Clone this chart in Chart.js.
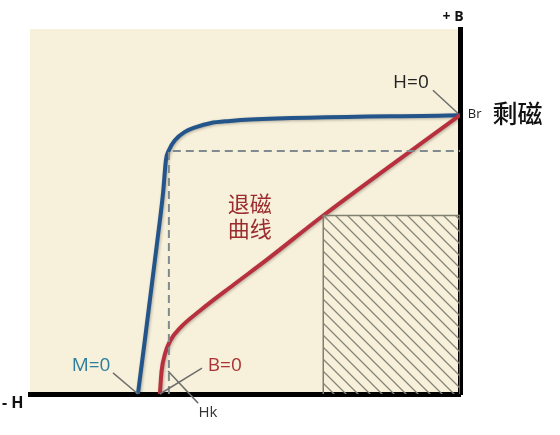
<!DOCTYPE html>
<html>
<head>
<meta charset="utf-8">
<script src="https://cdn.jsdelivr.net/npm/chart.js@4.4.0/dist/chart.umd.min.js"></script>
<style>
  body { margin: 0; background: #fff; }
  canvas { display: block; }
</style>
</head>
<body>
<canvas id="curva" width="560" height="435"></canvas>
<script>
// curva de desmagnetizacion: H en x (negativo), B en y
const blueH = [-74.9, -69.8, -69.0, -68.4, -67.7, -66.3, -64.0, -61.2, -58.1, -53.5, -48.8, 0];
const blueB = [0, 47.5, 55.8, 64.0, 66.8, 69.5, 71.8, 73.2, 74.2, 74.8, 75.2, 76.4];
const redH = [-69.8, -69.4, -68.6, -67.4, -65.1, -60.5, -52.8, -44.9, -31.8, 0];
const redB = [0, 6.3, 11.0, 14.6, 18.1, 22.8, 29.8, 36.8, 48.9, 76.4];
const hk = -67.7;
const knee = 66.6;
const boxH = -31.8;
const boxB = 48.9;

const toXY = (xs, ys) => xs.map((x, i) => ({ x: x, y: ys[i] }));

// textos y lineas guia (en unidades de los ejes)
const notas = [
  { text: "H=0", x: -11.4, y: 85.4, color: "#222", font: "19px 'Open Sans'" },
  { text: "Br", x: 3.4, y: 76.7, color: "#222", font: "13px 'Open Sans'" },
  { text: "剩磁", x: 13.4, y: 76.9, color: "#111", font: "500 25px 'Noto Sans CJK SC'" },
  { text: "退磁", x: -48.9, y: 52.2, color: "#9a2b2e", font: "22px 'Noto Sans CJK SC'" },
  { text: "曲线", x: -48.9, y: 45.3, color: "#9a2b2e", font: "22px 'Noto Sans CJK SC'" },
  { text: "M=0", x: -85.8, y: 7.7, color: "#2b7e9c", font: "19px 'Open Sans'" },
  { text: "B=0", x: -54.7, y: 7.7, color: "#a83236", font: "19px 'Open Sans'" },
  { text: "Hk", x: -58.6, y: -5.0, color: "#333", font: "15px 'Open Sans'" },
  { text: "+ B", x: -1.6, y: 103.3, color: "#111", font: "bold 14px 'Open Sans'" },
  { text: "- H", x: -104.0, y: -2.5, color: "#111", font: "bold 16px 'Open Sans'" },
];
const guias = [
  [-6.3, 83.2, -0.5, 76.9],
  [-80.7, 5.8, -74.9, 0],
  [-60.0, 7.1, -69.8, 0],
  [-67.9, 6.3, -60.9, -2.5],
];

// rayado de la zona de trabajo
const tile = document.createElement("canvas");
tile.width = 12;
tile.height = 12;
const t = tile.getContext("2d");
t.strokeStyle = "#86867a";
t.lineWidth = 1.3;
t.beginPath();
t.moveTo(-1, -1); t.lineTo(13, 13);
t.moveTo(-1, 11); t.lineTo(1, 13);
t.moveTo(11, -1); t.lineTo(13, 1);
t.stroke();
const rayado = t.createPattern(tile, "repeat");

const extras = {
  id: "extras",
  beforeDraw(chart) {
    const { ctx, chartArea: a } = chart;
    ctx.save();
    ctx.fillStyle = "#f7f0da";
    ctx.fillRect(a.left, a.top, a.right - a.left, a.bottom - a.top);
    ctx.restore();
  },
  beforeDatasetDraw(chart, args) {
    if (args.index < 2) return;
    const ctx = chart.ctx;
    ctx.save();
    ctx.shadowColor = "rgba(0,0,0,0.28)";
    ctx.shadowBlur = 3;
    ctx.shadowOffsetX = 1;
    ctx.shadowOffsetY = 1;
  },
  afterDatasetDraw(chart, args) {
    if (args.index < 2) return;
    chart.ctx.restore();
  },
  afterDraw(chart) {
    const { ctx, scales: { x, y } } = chart;
    ctx.save();
    ctx.strokeStyle = "#6e6e6e";
    ctx.lineWidth = 1.5;
    guias.forEach((g) => {
      ctx.beginPath();
      ctx.moveTo(x.getPixelForValue(g[0]), y.getPixelForValue(g[1]));
      ctx.lineTo(x.getPixelForValue(g[2]), y.getPixelForValue(g[3]));
      ctx.stroke();
    });
    ctx.textAlign = "center";
    ctx.textBaseline = "middle";
    notas.forEach((n) => {
      ctx.font = n.font;
      ctx.fillStyle = n.color;
      ctx.fillText(n.text, x.getPixelForValue(n.x), y.getPixelForValue(n.y));
    });
    ctx.restore();
  },
};

new Chart(document.getElementById("curva"), {
  type: "line",
  data: {
    datasets: [
      {
        data: toXY([boxH, boxH, 0, 0], [0, boxB, boxB, 0]),
        fill: "origin",
        backgroundColor: rayado,
        borderColor: "#80806f",
        borderWidth: 1.5,
        pointRadius: 0,
        tension: 0,
      },
      {
        data: toXY([hk, hk, 0], [0, knee, knee]),
        borderColor: "#7f8b8e",
        borderWidth: 2,
        borderDash: [8, 5],
        pointRadius: 0,
        tension: 0,
      },
      {
        data: toXY(redH, redB),
        borderColor: "#b8303d",
        borderWidth: 4,
        pointRadius: 0,
        cubicInterpolationMode: "monotone",
      },
      {
        data: toXY(blueH, blueB),
        borderColor: "#23548a",
        borderWidth: 4,
        pointRadius: 0,
        cubicInterpolationMode: "monotone",
      },
    ],
  },
  options: {
    responsive: false,
    animation: false,
    layout: { padding: { left: 30, top: 29, right: 100, bottom: 41 } },
    plugins: { legend: { display: false }, tooltip: { enabled: false } },
    scales: {
      x: {
        type: "linear",
        min: -100,
        max: 0,
        z: 1,
        grid: { display: false, drawTicks: false },
        ticks: { display: false },
        border: { display: true, color: "#000", width: 5 },
      },
      y: {
        position: "right",
        min: 0,
        max: 100,
        z: 1,
        grid: { display: false, drawTicks: false },
        ticks: { display: false },
        border: { display: true, color: "#000", width: 5 },
      },
    },
  },
  plugins: [extras],
});
</script>
</body>
</html>
